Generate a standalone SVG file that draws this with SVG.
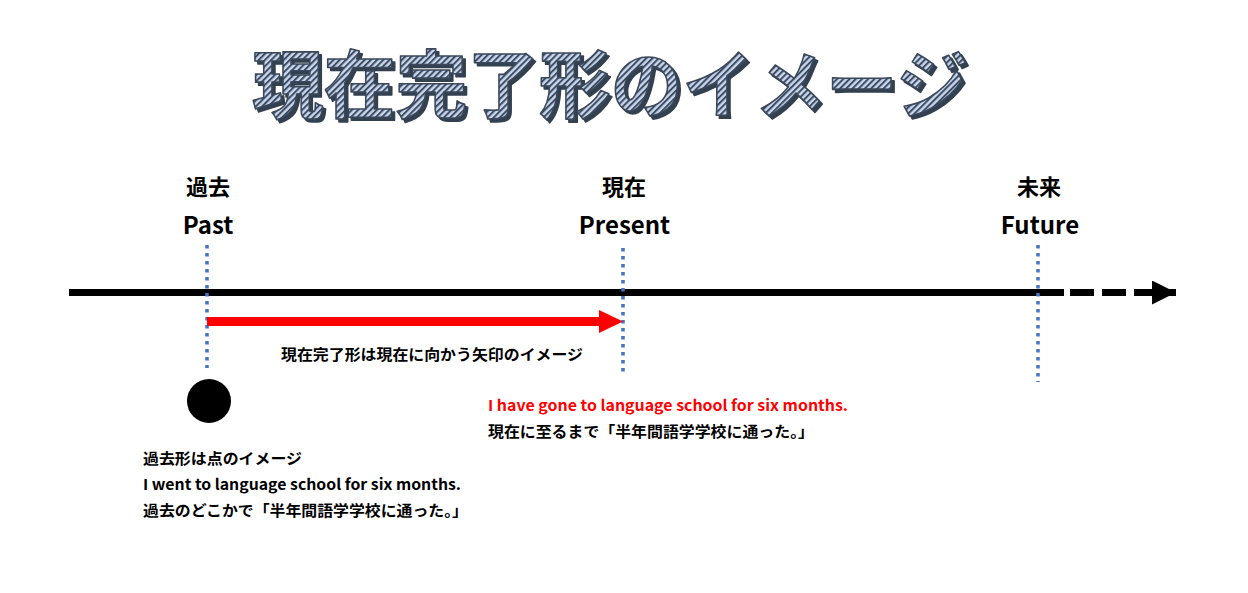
<svg xmlns="http://www.w3.org/2000/svg" width="1248" height="593" viewBox="0 0 1248 593">
<defs>
<pattern id="stripes" patternUnits="userSpaceOnUse" width="4.4" height="4.4" patternTransform="rotate(45)">
<rect x="0" y="0" width="4.4" height="4.4" fill="#c9d6ec"/>
<rect x="0" y="0" width="2" height="4.4" fill="#3e4d63"/>
</pattern>
<filter id="shadow" x="-5%" y="-10%" width="110%" height="130%">
<feOffset in="SourceAlpha" dx="3" dy="3" result="off"/>
<feFlood flood-color="#333f50"/>
<feComposite in2="off" operator="in" result="sh"/>
<feMerge><feMergeNode in="sh"/><feMergeNode in="SourceGraphic"/></feMerge>
</filter>
<marker id="blackHead" viewBox="0 0 24 24" markerUnits="userSpaceOnUse" markerWidth="24" markerHeight="24" refX="24" refY="12" orient="auto">
<path d="M0,0 L24,12 L0,24 Z" fill="#000000"/>
</marker>
</defs>
<style>
.jp{font-family:"Noto Sans CJK JP","Noto Sans",sans-serif;font-weight:700;fill:#000}
.lbl{font-size:22px}
.en{font-size:24px}
.sm{font-size:15px}
.title{font-family:"Noto Sans CJK JP",sans-serif;font-weight:700;font-size:74px;fill:url(#stripes);stroke:#3a475a;stroke-width:1.6;stroke-linejoin:round;filter:url(#shadow)}
.guide{stroke:#4472c4;stroke-width:3.5;stroke-dasharray:3.5 4.5;fill:none}
</style>
<rect width="1248" height="593" fill="#ffffff"/>

<g id="title">
<text class="title" x="252" y="112" textLength="716" lengthAdjust="spacingAndGlyphs">現在完了形のイメージ</text>
</g>

<g id="connectors">
<line x1="69" y1="292.5" x2="1064" y2="292.5" stroke="#000" stroke-width="7"/>
<line x1="1070" y1="292.5" x2="1176" y2="292.5" stroke="#000" stroke-width="7" stroke-dasharray="24 8" marker-end="url(#blackHead)"/>
<line class="guide" x1="207" y1="245" x2="207" y2="368"/>
<line class="guide" x1="623" y1="248" x2="623" y2="376"/>
<line class="guide" x1="1038" y1="245" x2="1038" y2="382"/>
<line x1="207" y1="321.5" x2="603" y2="321.5" stroke="#ff0000" stroke-width="9"/>
<path d="M599,310 L623,321.5 L599,333 Z" fill="#ff0000"/>
</g>

<g id="past">
<text class="jp lbl" x="208" y="195" text-anchor="middle">過去</text>
<text class="jp en" x="208" y="234" text-anchor="middle">Past</text>
</g>
<g id="present">
<text class="jp lbl" x="624" y="195" text-anchor="middle">現在</text>
<text class="jp en" x="624.5" y="234" text-anchor="middle">Present</text>
</g>
<g id="future">
<text class="jp lbl" x="1039" y="195" text-anchor="middle">未来</text>
<text class="jp en" x="1040" y="234" text-anchor="middle">Future</text>
</g>

<g id="point">
<circle cx="209" cy="401" r="22" fill="#000"/>
</g>

<g id="perfect-label">
<text class="jp sm" x="281" y="360" textLength="302" lengthAdjust="spacingAndGlyphs">現在完了形は現在に向かう矢印のイメージ</text>
</g>

<g id="perfect-example">
<text class="jp sm" x="488" y="411" style="fill:#ff0000" textLength="360" lengthAdjust="spacingAndGlyphs">I have gone to language school for six months.</text>
<text class="jp sm" x="488" y="437" textLength="326" lengthAdjust="spacingAndGlyphs">現在に至るまで「半年間語学学校に通った。」</text>
</g>

<g id="past-example">
<text class="jp sm" x="143" y="464" textLength="159" lengthAdjust="spacingAndGlyphs">過去形は点のイメージ</text>
<text class="jp sm" x="143" y="490" textLength="318" lengthAdjust="spacingAndGlyphs">I went to language school for six months.</text>
<text class="jp sm" x="143" y="516" textLength="325" lengthAdjust="spacingAndGlyphs">過去のどこかで「半年間語学学校に通った。」</text>
</g>
</svg>
